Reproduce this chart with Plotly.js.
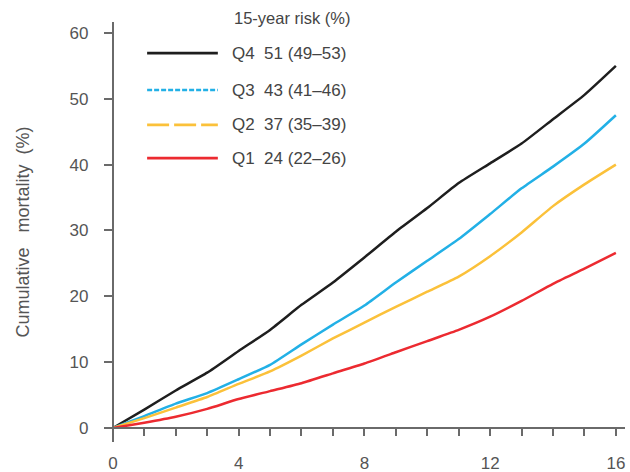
<!DOCTYPE html>
<html>
<head>
<meta charset="utf-8">
<script src="https://cdn.plot.ly/plotly-3.0.1.min.js"></script>
<style>html,body{margin:0;padding:0;background:#fff}#chart{width:630px;height:472px}</style>
</head>
<body>
<div id="chart"></div>
<script>
// Years of follow-up
const years = [0,1,2,3,4,5,6,7,8,9,10,11,12,13,14,15,16];
// Cumulative mortality (%) by quartile
const q4 = [0,2.8,5.7,8.4,11.7,14.9,18.7,22.1,25.9,29.8,33.4,37.2,40.2,43.2,46.9,50.6,55.0];
const q3 = [0,1.8,3.7,5.3,7.4,9.6,12.7,15.7,18.6,22.1,25.4,28.7,32.5,36.4,39.7,43.2,47.5];
const q2 = [0,1.5,3.1,4.7,6.7,8.6,11.0,13.6,16.0,18.4,20.7,23.0,26.1,29.7,33.7,37.0,40.0];
const q1 = [0,0.8,1.7,2.9,4.4,5.6,6.8,8.3,9.8,11.5,13.2,14.9,16.9,19.3,21.9,24.2,26.6];

const seriesNames = ['Q4','Q3','Q2','Q1'];
const riskLabels = ['51 (49\u201353)','43 (41\u201346)','37 (35\u201339)','24 (22\u201326)'];
const legendTitle = '15-year risk (%)';
const colors = ['#1e1e1e','#22b0e6','#fbc13a','#ec2a30'];
const legendDash = ['solid','5px,2px','22px,5px','solid'];

const xTickVals = years;
const xTickText = years.map(v => (v % 4 === 0 ? String(v) : ''));
const yTickVals = [0,10,20,30,40,50,60];

const seriesData = [q4,q3,q2,q1];
const traces = seriesData.map((ys,i) => ({
  x: years, y: ys, type: 'scatter', mode: 'lines',
  name: seriesNames[i] + '  ' + riskLabels[i],
  line: {color: colors[i], width: 2.5, shape: 'spline', smoothing: 0.5},
  showlegend: false, hoverinfo: 'skip'
}));

// custom legend (keys drawn as layout shapes, text as annotations)
const FONT = 'Liberation Sans, Arial, sans-serif';
const rowY = [0.926, 0.838, 0.755, 0.676];
const shapes = seriesNames.map((n,i) => ({
  type: 'line', xref: 'paper', yref: 'paper',
  x0: 0.081, x1: 0.217, y0: rowY[i], y1: rowY[i],
  line: {color: colors[i], width: 2.6, dash: legendDash[i]}
}));
const annotations = seriesNames.map((n,i) => ({
  xref: 'paper', yref: 'paper', x: 0.24, y: rowY[i], xanchor: 'left', yanchor: 'middle',
  text: n + '\u00a0\u00a0' + riskLabels[i], showarrow: false,
  font: {family: FONT, size: 17, color: '#444'}
}));
annotations.push({
  xref: 'paper', yref: 'paper', x: 0.245, y: 1.01, xanchor: 'left', yanchor: 'middle',
  text: legendTitle, showarrow: false,
  font: {family: FONT, size: 16.5, color: '#444'}
});

const xRange = [-0.25, 16.29];
const yRange = [-2.13, 61.67];

const layout = {
  width: 630, height: 472,
  margin: {l: 105, r: 5, t: 22, b: 30},
  paper_bgcolor: '#fff', plot_bgcolor: '#fff',
  showlegend: false,
  font: {family: FONT, size: 17, color: '#555'},
  xaxis: {
    range: xRange, anchor: 'free', position: (0 - yRange[0]) / (yRange[1] - yRange[0]),
    tickvals: xTickVals, ticktext: xTickText,
    ticks: 'outside', ticklen: 7, tickwidth: 2, tickcolor: '#6a6a6a',
    showline: true, linecolor: '#6a6a6a', linewidth: 2,
    showgrid: false, zeroline: false, ticklabelstandoff: 13,
    tickfont: {size: 17, color: '#555'}
  },
  yaxis: {
    range: yRange, anchor: 'free', position: (0 - xRange[0]) / (xRange[1] - xRange[0]),
    tickvals: yTickVals,
    ticks: 'outside', ticklen: 8, tickwidth: 2, tickcolor: '#6a6a6a',
    showline: true, linecolor: '#6a6a6a', linewidth: 2,
    showgrid: false, zeroline: false, ticklabelstandoff: 12,
    tickfont: {size: 17, color: '#555'},
    title: {text: 'Cumulative\u00a0\u00a0\u00a0mortality\u00a0\u00a0(%)', standoff: 34,
            font: {size: 18, color: '#555'}}
  },
  shapes: shapes,
  annotations: annotations
};

Plotly.newPlot('chart', traces, layout, {displayModeBar: false, staticPlot: true});
</script>
</body>
</html>
